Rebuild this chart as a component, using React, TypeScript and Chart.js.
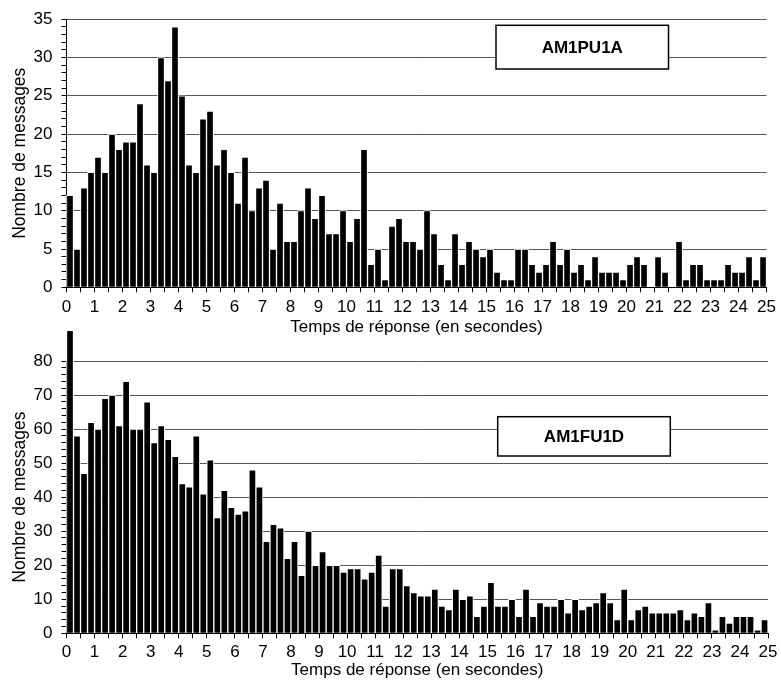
import React, { useEffect, useRef } from 'react';
import { Chart, registerables } from 'chart.js';

Chart.register(...registerables);
Chart.defaults.font.family = "'Liberation Sans', Arial, sans-serif";

const BIN_WIDTH = 0.25;

// AM1PU1A : nombre de messages par tranche de 0,25 s (0 -> 25 s)
const topCounts = [
  12, 5, 13, 15, 17, 15, 20, 18, 19, 19,
  24, 16, 15, 30, 27, 34, 25, 16, 15, 22,
  23, 16, 18, 15, 11, 17, 10, 13, 14, 5,
  11, 6, 6, 10, 13, 9, 12, 7, 7, 10,
  6, 9, 18, 3, 5, 1, 8, 9, 6, 6,
  5, 10, 7, 3, 1, 7, 3, 6, 5, 4,
  5, 2, 1, 1, 5, 5, 3, 2, 3, 6,
  3, 5, 2, 3, 1, 4, 2, 2, 2, 1,
  3, 4, 3, 0, 4, 2, 0, 6, 1, 3,
  3, 1, 1, 1, 3, 2, 2, 4, 1, 4,
];

// AM1FU1D
const bottomCounts = [
  89, 58, 47, 62, 60, 69, 70, 61, 74, 60,
  60, 68, 56, 61, 57, 52, 44, 43, 58, 41,
  51, 34, 42, 37, 35, 36, 48, 43, 27, 32,
  31, 22, 27, 17, 30, 20, 24, 20, 20, 18,
  19, 19, 16, 18, 23, 8, 19, 19, 14, 12,
  11, 11, 13, 8, 7, 13, 10, 11, 5, 8,
  15, 8, 8, 10, 5, 13, 5, 9, 8, 8,
  10, 6, 10, 7, 8, 9, 12, 9, 4, 13,
  4, 7, 8, 6, 6, 6, 6, 7, 4, 6,
  5, 9, 1, 5, 3, 5, 5, 5, 1, 4,
];

const binCenters = topCounts.map((_, i) => (i + 0.5) * BIN_WIDTH);

const topLabel = 'AM1PU1A';
const bottomLabel = 'AM1FU1D';
const yTitle = 'Nombre de messages';
const xTitle = 'Temps de réponse (en secondes)';
const xMin = 0;
const xMax = 25;
const topYMax = 35;
const bottomYMax = 80;

function boxPlugin(text: string, x0: number, y0: number, x1: number, y1: number) {
  return {
    id: 'labelBox',
    afterDatasetsDraw(chart: any) {
      const ctx = chart.ctx;
      ctx.save();
      ctx.fillStyle = '#fff';
      ctx.fillRect(x0, y0, x1 - x0, y1 - y0);
      ctx.lineWidth = 1.5;
      ctx.strokeStyle = '#000';
      ctx.strokeRect(x0, y0, x1 - x0, y1 - y0);
      ctx.fillStyle = '#000';
      ctx.font = "bold 17px 'Liberation Sans', Arial, sans-serif";
      ctx.textAlign = 'center';
      ctx.textBaseline = 'middle';
      ctx.fillText(text, (x0 + x1) / 2, (y0 + y1) / 2 + 1);
      ctx.restore();
    },
  };
}

function makeConfig(o: {
  counts: number[];
  yMax: number;
  minor: number;
  major: number;
  padTop: number;
  xAxisHeight: number;
  tickPad: number;
  titleBottom: number;
  box: [string, number, number, number, number];
}): any {
  return {
    type: 'bar',
    data: {
      datasets: [
        {
          data: o.counts.map((y, i) => ({ x: binCenters[i], y })),
          backgroundColor: '#000',
          borderColor: '#fff',
          borderWidth: 1,
          borderSkipped: 'start',
          categoryPercentage: 1,
          barPercentage: 1,
          clip: false,
        },
      ],
    },
    options: {
      responsive: false,
      animation: false,
      devicePixelRatio: 1,
      layout: { padding: { top: o.padTop, right: 11, left: 0, bottom: 0 } },
      plugins: { legend: { display: false }, tooltip: { enabled: false } },
      scales: {
        x: {
          type: 'linear',
          min: xMin,
          max: xMax,
          offset: false,
          ticks: {
            stepSize: 0.5,
            autoSkip: false,
            maxRotation: 0,
            padding: o.tickPad,
            color: '#000',
            font: { size: 17 },
            callback: (v: number) => (Number.isInteger(v) ? String(v) : ''),
          },
          grid: {
            display: true,
            drawOnChartArea: false,
            drawTicks: true,
            tickLength: 5,
            tickColor: '#000',
            offset: false,
          },
          border: { display: true, color: '#000', width: 1 },
          title: {
            display: true,
            text: xTitle,
            color: '#000',
            font: { size: 17 },
            padding: { top: 0, bottom: o.titleBottom },
          },
          afterFit: (s: any) => {
            s.height = o.xAxisHeight;
          },
        },
        y: {
          min: 0,
          max: o.yMax,
          ticks: {
            stepSize: o.minor,
            autoSkip: false,
            padding: 9,
            color: '#000',
            font: { size: 17 },
            callback: (v: number) => (v % o.major === 0 ? String(v) : ''),
          },
          grid: {
            color: (c: any) =>
              c.tick && c.tick.value > 0 && c.tick.value % o.major === 0 ? '#555' : 'rgba(0,0,0,0)',
            tickColor: '#000',
            tickLength: 5,
            lineWidth: 1,
          },
          border: { display: true, color: '#000', width: 1 },
          title: {
            display: true,
            text: yTitle,
            color: '#000',
            font: { size: 17.5 },
            padding: { top: 10, bottom: 0 },
          },
          afterFit: (s: any) => {
            s.width = 66.5;
          },
        },
      },
    },
    plugins: [boxPlugin(...o.box)],
  };
}

export default function App() {
  const topRef = useRef<HTMLCanvasElement>(null);
  const botRef = useRef<HTMLCanvasElement>(null);

  useEffect(() => {
    const c1 = new Chart(
      topRef.current!,
      makeConfig({
        counts: topCounts,
        yMax: topYMax,
        minor: 1,
        major: 5,
        padTop: 15,
        xAxisHeight: 52.7,
        tickPad: 5,
        titleBottom: 2,
        box: [topLabel, 496, 25.3, 668.5, 69],
      })
    );
    const c2 = new Chart(
      botRef.current!,
      makeConfig({
        counts: bottomCounts,
        yMax: bottomYMax,
        minor: 2,
        major: 10,
        padTop: 41,
        xAxisHeight: 50.7,
        tickPad: 3.5,
        titleBottom: 3,
        box: [bottomLabel, 497.7, 96.7, 670.3, 136],
      })
    );
    return () => {
      c1.destroy();
      c2.destroy();
    };
  }, []);

  return (
    <div style={{ position: 'absolute', left: 0, top: 0, width: 781, height: 684, background: '#fff' }}>
      <canvas ref={topRef} width={781} height={340} style={{ position: 'absolute', left: 0, top: 0 }} />
      <canvas ref={botRef} width={781} height={364} style={{ position: 'absolute', left: 0, top: 320 }} />
    </div>
  );
}
